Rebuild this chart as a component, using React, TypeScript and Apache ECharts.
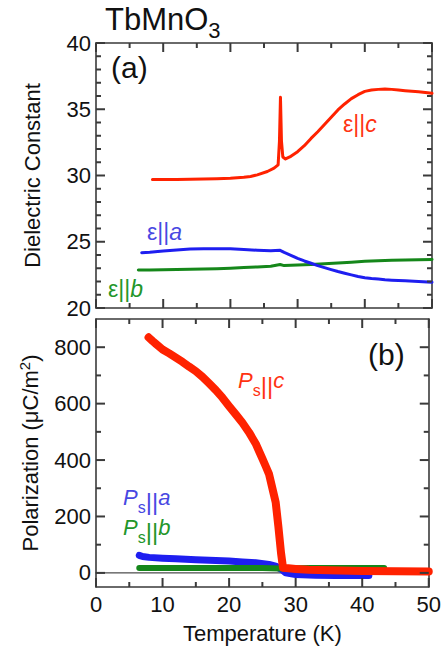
import React, { useEffect, useRef } from 'react';
import * as echarts from 'echarts';

const FONT = '"Liberation Sans", Arial, Helvetica, sans-serif';
const FRAME = '#3a3a3a';
const INK = '#111111';

const RED = '#ff2200';
const BLUE = '#1e1ef0';
const GREEN = '#15871a';
const RED_TXT = '#ff3311';
const BLUE_TXT = '#4848e2';
const GREEN_TXT = '#23962a';

// Temperature axis (K)
const T_MIN = 0;
const T_MAX = 50;
const T_STEP = 10;
const T_MAJOR = [0, 10, 20, 30, 40, 50];
const T_MINOR = [5, 15, 25, 35, 45];

// (a) dielectric constant axis
const EPS_MIN = 20;
const EPS_MAX = 40;
const EPS_STEP = 5;
const EPS_MAJOR = [20, 25, 30, 35, 40];
const EPS_MINOR = [21, 22, 23, 24, 26, 27, 28, 29, 31, 32, 33, 34, 36, 37, 38, 39];

// (b) polarization axis (μC/m²)
const P_MIN = -50;
const P_MAX = 900;
const P_MAJOR = [0, 200, 400, 600, 800];
const P_MINOR = [100, 300, 500, 700];

// (a) ε along c: flat, a sharp spike at the ferroelectric transition, then a broad hump
const T_EPS_C = [8.4, 10, 12, 14, 16, 18, 20, 22, 23, 24, 25.5, 26.5, 27.1, 27.3, 27.45, 27.6, 27.8, 28.2,
  29, 30, 31, 32, 33, 34, 35, 36, 37, 38, 39, 40, 41, 42, 43, 44, 45, 46, 47, 48, 49, 50];
const EPS_C = [29.7, 29.7, 29.7, 29.72, 29.74, 29.76, 29.79, 29.86, 29.93, 30.05, 30.3, 30.55, 30.8, 32.6, 35.9, 32.6, 31.4, 31.25,
  31.45, 31.8, 32.25, 32.8, 33.3, 33.85, 34.4, 34.95, 35.4, 35.8, 36.1, 36.35, 36.45, 36.5, 36.52, 36.5, 36.45, 36.4, 36.36, 36.32, 36.27, 36.2];

// (a) ε along a
const T_EPS_A = [6.8, 8, 10, 12, 14, 16, 18, 20, 22, 24, 26, 27.4, 28, 29, 30, 31, 32, 33, 34, 35, 36, 37, 38, 39, 40, 41, 42, 43, 44, 46, 48, 50];
const EPS_A = [24.17, 24.2, 24.3, 24.38, 24.45, 24.48, 24.48, 24.47, 24.42, 24.36, 24.32, 24.35, 24.2, 23.98, 23.75, 23.55, 23.38, 23.2, 23.05, 22.9, 22.75, 22.62, 22.5, 22.38, 22.28, 22.22, 22.18, 22.13, 22.1, 22.05, 22.0, 21.95];

// (a) ε along b
const T_EPS_B = [6.3, 8, 10, 12, 14, 16, 18, 20, 22, 24, 26, 27.4, 28, 30, 32, 34, 36, 38, 40, 42, 44, 46, 48, 50];
const EPS_B = [22.86, 22.87, 22.88, 22.9, 22.92, 22.94, 22.96, 23.0, 23.05, 23.1, 23.15, 23.28, 23.2, 23.24, 23.28, 23.34, 23.4, 23.46, 23.52, 23.56, 23.6, 23.63, 23.65, 23.66];

// (b) spontaneous polarization along c
const T_PS_C = [7.9, 8.5, 9, 10, 11, 12, 13, 14, 15, 16, 17, 18, 19, 20, 21, 22, 23, 24, 25, 25.5, 26, 26.5, 27, 27.4, 27.8, 28.1,
  28.5, 30, 32, 35, 40, 45, 50];
const PS_C = [835, 822, 812, 792, 778, 763, 748, 731, 715, 695, 672, 648, 621, 591, 562, 532, 498, 458, 405, 378, 350, 300, 250, 165, 71, 18,
  17, 14, 11, 9, 7, 6, 5];

// (b) spontaneous polarization along a
const T_PS_A = [6.5, 7, 8, 10, 12, 15, 18, 20, 22, 24, 26, 27, 28, 28.5, 30, 33, 36, 39, 41];
const PS_A = [62, 58, 55, 52, 50, 47, 44, 42, 39, 36, 30, 24, 10, 0, -6, -8, -9, -9, -9];

// (b) spontaneous polarization along b
const T_PS_B = [6.5, 10, 15, 20, 25, 27.5, 28.5, 32, 36, 40, 43.3];
const PS_B = [17, 17, 17, 17, 17, 16, 16, 17, 17, 17, 17];

// zero reference line in panel (b)
const ZERO_T = [0, 50];
const ZERO_P = [0, 0];

const zip = (xs: number[], ys: number[]) => xs.map((x, i) => [x, ys[i]]);

type Run = { t: string; size: number; italic?: boolean; dy?: number };

// Lays out a label made of several runs (italic letters, sub/superscripts) left to right on one baseline.
function textRuns(runs: Run[], x: number, baseline: number, color: string) {
  const ctx = document.createElement('canvas').getContext('2d')!;
  let cx = x;
  const children: any[] = [];
  for (const r of runs) {
    const font = `${r.italic ? 'italic ' : ''}${r.size}px ${FONT}`;
    ctx.font = font;
    children.push({
      type: 'text',
      x: cx,
      y: baseline + (r.dy || 0) - 0.3465 * r.size,
      style: { text: r.t, font, fill: color, align: 'left', verticalAlign: 'middle' },
    });
    cx += ctx.measureText(r.t).width;
  }
  return { type: 'group', children };
}

// Inward tick marks on both opposite edges of a frame, positioned through the axes' scales.
function tickMarks(xi: number, yi: number, values: number[], len: number, dir: 'x' | 'y', lo: number, hi: number) {
  return {
    type: 'custom',
    xAxisIndex: xi,
    yAxisIndex: yi,
    silent: true,
    clip: false,
    z: 5,
    data: values.map((v) => [v]),
    renderItem: (_params: any, api: any) => {
      const v = api.value(0);
      const s = { stroke: FRAME, lineWidth: 2 };
      if (dir === 'x') {
        const a = api.coord([v, lo]);
        const b = api.coord([v, hi]);
        return {
          type: 'group',
          children: [
            { type: 'line', shape: { x1: a[0], y1: a[1], x2: a[0], y2: a[1] - len }, style: s },
            { type: 'line', shape: { x1: b[0], y1: b[1], x2: b[0], y2: b[1] + len }, style: s },
          ],
        };
      }
      const a = api.coord([T_MIN, v]);
      const b = api.coord([T_MAX, v]);
      return {
        type: 'group',
        children: [
          { type: 'line', shape: { x1: a[0], y1: a[1], x2: a[0] + len, y2: a[1] }, style: s },
          { type: 'line', shape: { x1: b[0], y1: b[1], x2: b[0] - len, y2: b[1] }, style: s },
        ],
      };
    },
  };
}

function xAxis(gridIndex: number, position: string, labels: boolean) {
  return {
    type: 'value',
    gridIndex,
    position,
    min: T_MIN,
    max: T_MAX,
    interval: T_STEP,
    axisLine: { show: true, onZero: false, lineStyle: { color: FRAME, width: 1.6 } },
    axisTick: { show: false },
    minorTick: { show: false },
    splitLine: { show: false },
    axisLabel: {
      show: labels, color: INK, fontSize: 22, fontFamily: FONT, margin: 6,
      showMinLabel: true, showMaxLabel: true,
    },
    name: labels ? 'Temperature (K)' : '',
    nameLocation: 'middle',
    nameGap: 35,
    nameTextStyle: { color: INK, fontSize: 22, fontFamily: FONT },
  };
}

const App: React.FC = () => {
  const ref = useRef<HTMLDivElement>(null);

  useEffect(() => {
    if (!ref.current) return;
    const chart = echarts.init(ref.current, undefined, { renderer: 'svg' });

    const epsAxis = (position: string, labels: boolean) => ({
      type: 'value',
      gridIndex: 0,
      position,
      min: EPS_MIN,
      max: EPS_MAX,
      interval: EPS_STEP,
      axisLine: { show: true, onZero: false, lineStyle: { color: FRAME, width: 1.6 } },
      axisTick: { show: false },
      minorTick: { show: false },
      splitLine: { show: false },
      axisLabel: {
        show: labels, color: INK, fontSize: 22, fontFamily: FONT, margin: 5,
        showMinLabel: true, showMaxLabel: true,
      },
      name: labels ? 'Dielectric Constant' : '',
      nameLocation: 'middle',
      nameGap: 53,
      nameTextStyle: { color: INK, fontSize: 22, fontFamily: FONT },
    });

    const polAxis = (position: string, labels: boolean, name: string) => ({
      type: 'value',
      gridIndex: 1,
      position,
      min: P_MIN,
      max: P_MAX,
      axisLine: { show: true, onZero: false, lineStyle: { color: FRAME, width: 1.6 } },
      axisTick: { show: false },
      minorTick: { show: false },
      splitLine: { show: false },
      axisLabel: {
        show: labels, color: INK, fontSize: 22, fontFamily: FONT, margin: 5,
        customValues: P_MAJOR,
      },
      name,
      nameLocation: 'middle',
      nameGap: 51,
      nameTextStyle: {
        color: INK, fontSize: 22, fontFamily: FONT, lineHeight: 26,
        rich: { sup: { color: INK, fontSize: 15, fontFamily: FONT, lineHeight: 15, verticalAlign: 'top' } },
      },
    });

    const curve = (color: string, xs: number[], ys: number[], xi: number, yi: number, width: number) => ({
      type: 'line',
      xAxisIndex: xi,
      yAxisIndex: yi,
      data: zip(xs, ys),
      showSymbol: false,
      symbol: 'none',
      silent: true,
      lineStyle: { color, width, cap: 'round', join: 'round' },
    });

    chart.setOption({
      animation: false,
      grid: [
        { left: 96, top: 43, width: 336, height: 265 },
        { left: 96, top: 319, width: 336, height: 268 },
      ],
      xAxis: [
        xAxis(0, 'bottom', false),
        xAxis(0, 'top', false),
        xAxis(1, 'bottom', true),
        xAxis(1, 'top', false),
      ],
      yAxis: [
        epsAxis('left', true),
        epsAxis('right', false),
        polAxis('left', true, 'Polarization (μC/m{sup|2})'),
        polAxis('right', false, ''),
      ],
      series: [
        curve(GREEN, T_EPS_B, EPS_B, 0, 0, 3),
        curve(BLUE, T_EPS_A, EPS_A, 0, 0, 3),
        curve(RED, T_EPS_C, EPS_C, 0, 0, 3),
        curve('#222222', ZERO_T, ZERO_P, 2, 2, 1),
        curve(BLUE, T_PS_A, PS_A, 2, 2, 7),
        curve(GREEN, T_PS_B, PS_B, 2, 2, 6),
        curve(RED, T_PS_C, PS_C, 2, 2, 8),
        // frame ticks, panel (a)
        tickMarks(0, 0, T_MAJOR, 9, 'x', EPS_MIN, EPS_MAX),
        tickMarks(0, 0, T_MINOR, 5, 'x', EPS_MIN, EPS_MAX),
        tickMarks(0, 0, EPS_MAJOR, 9, 'y', 0, 0),
        tickMarks(0, 0, EPS_MINOR, 5, 'y', 0, 0),
        // frame ticks, panel (b)
        tickMarks(2, 2, T_MAJOR, 9, 'x', P_MIN, P_MAX),
        tickMarks(2, 2, T_MINOR, 5, 'x', P_MIN, P_MAX),
        tickMarks(2, 2, P_MAJOR, 9, 'y', 0, 0),
        tickMarks(2, 2, P_MINOR, 5, 'y', 0, 0),
      ],
      graphic: [
        textRuns([{ t: 'TbMnO', size: 31 }, { t: '3', size: 22, dy: 8 }], 105, 30, INK),
        textRuns([{ t: '(a)', size: 30 }], 111, 78, INK),
        textRuns([{ t: '(b)', size: 30 }], 368, 365, INK),
        textRuns([{ t: 'ε', size: 23 }, { t: '||', size: 23 }, { t: 'c', size: 23, italic: true }], 343, 131.5, RED_TXT),
        textRuns([{ t: 'ε', size: 23 }, { t: '||', size: 23 }, { t: 'a', size: 23, italic: true }], 147, 240, BLUE_TXT),
        textRuns([{ t: 'ε', size: 23 }, { t: '||', size: 23 }, { t: 'b', size: 23, italic: true }], 108, 296.5, GREEN_TXT),
        textRuns([{ t: 'P', size: 22, italic: true }, { t: 's', size: 16, dy: 8 }, { t: '||', size: 24, dy: 5 }, { t: 'c', size: 22, italic: true }], 238, 388.5, RED_TXT),
        textRuns([{ t: 'P', size: 22, italic: true }, { t: 's', size: 16, dy: 8 }, { t: '||', size: 24, dy: 5 }, { t: 'a', size: 22, italic: true }], 123, 505, BLUE_TXT),
        textRuns([{ t: 'P', size: 22, italic: true }, { t: 's', size: 16, dy: 8 }, { t: '||', size: 24, dy: 5 }, { t: 'b', size: 22, italic: true }], 123, 535, GREEN_TXT),
      ],
    });

    return () => chart.dispose();
  }, []);

  return (
    <div
      ref={ref}
      style={{ position: 'fixed', left: 0, top: 0, width: 444, height: 651, background: '#ffffff' }}
    />
  );
};

export default App;
